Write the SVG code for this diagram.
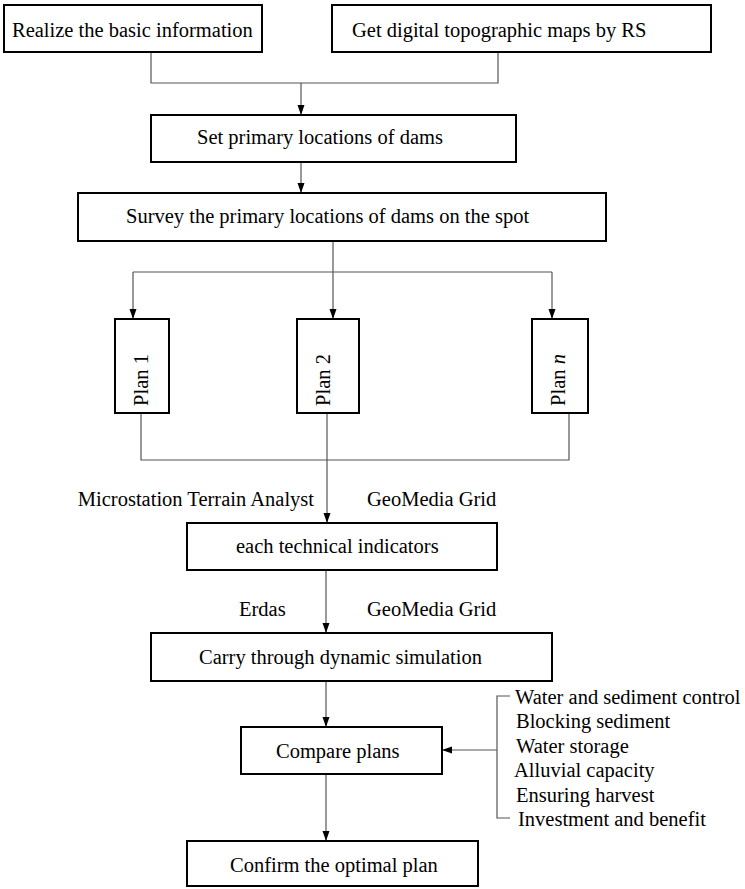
<svg xmlns="http://www.w3.org/2000/svg" width="745" height="889" viewBox="0 0 745 889">
  <style>
    .box { fill: #fff; stroke: #000; stroke-width: 2; }
    .lbl { font-family: "Liberation Serif", "Times New Roman", serif; font-size: 20.5px; fill: #000; }
    .mid { text-anchor: middle; }
    .wire { fill: none; stroke: #555; stroke-width: 1.2; }
  </style>
  <defs>
    <marker id="arr" markerUnits="userSpaceOnUse" markerWidth="10" markerHeight="8" refX="10" refY="3.5" orient="auto">
      <path d="M0,0 L10,3.5 L0,7 z" fill="#000"/>
    </marker>
  </defs>

  <!-- connectors -->
  <g id="connectors">
    <path class="wire" d="M151,52 V83 H498 V52"/>
    <line class="wire" x1="301" y1="83" x2="301" y2="115" marker-end="url(#arr)"/>
    <line class="wire" x1="301" y1="162" x2="301" y2="193" marker-end="url(#arr)"/>
    <line class="wire" x1="333" y1="241" x2="333" y2="272"/>
    <line class="wire" x1="133" y1="272" x2="552" y2="272"/>
    <line class="wire" x1="133" y1="272" x2="133" y2="319" marker-end="url(#arr)"/>
    <line class="wire" x1="333" y1="272" x2="333" y2="319" marker-end="url(#arr)"/>
    <line class="wire" x1="552" y1="272" x2="552" y2="319" marker-end="url(#arr)"/>
    <path class="wire" d="M141,413 V460 H569 V413"/>
    <line class="wire" x1="327" y1="413" x2="327" y2="523" marker-end="url(#arr)"/>
    <line class="wire" x1="326" y1="570" x2="326" y2="633" marker-end="url(#arr)"/>
    <line class="wire" x1="326" y1="681" x2="326" y2="727" marker-end="url(#arr)"/>
    <line class="wire" x1="326" y1="774" x2="326" y2="841" marker-end="url(#arr)"/>
    <path class="wire" d="M510,696 H497 V818 H510"/>
    <line class="wire" x1="497" y1="750" x2="442" y2="750" marker-end="url(#arr)"/>
  </g>

  <g id="n-basic">
    <rect class="box" x="4" y="5" width="258" height="47"/>
    <text class="lbl" x="12" y="37">Realize the basic information</text>
  </g>
  <g id="n-maps">
    <rect class="box" x="332" y="5" width="379" height="47"/>
    <text class="lbl" x="352" y="37">Get digital topographic maps by RS</text>
  </g>
  <g id="n-set">
    <rect class="box" x="151" y="115" width="365" height="47"/>
    <text class="lbl" x="197" y="144">Set primary locations of dams</text>
  </g>
  <g id="n-survey">
    <rect class="box" x="78" y="193" width="528" height="48"/>
    <text class="lbl" x="126" y="223">Survey the primary locations of dams on the spot</text>
  </g>
  <g id="n-plan1">
    <rect class="box" x="115" y="319" width="54" height="94"/>
    <text class="lbl mid" transform="translate(148,380) rotate(-90)">Plan 1</text>
  </g>
  <g id="n-plan2">
    <rect class="box" x="297" y="319" width="62" height="94"/>
    <text class="lbl mid" transform="translate(330,380) rotate(-90)">Plan 2</text>
  </g>
  <g id="n-plann">
    <rect class="box" x="532" y="319" width="56" height="94"/>
    <text class="lbl mid" transform="translate(565,380) rotate(-90)">Plan <tspan font-style="italic">n</tspan></text>
  </g>

  <g id="tools-1">
    <text class="lbl" x="314" y="506" text-anchor="end">Microstation Terrain Analyst</text>
    <text class="lbl" x="367" y="506">GeoMedia Grid</text>
  </g>
  <g id="n-indicators">
    <rect class="box" x="187" y="523" width="310" height="47"/>
    <text class="lbl" x="236" y="553">each technical indicators</text>
  </g>
  <g id="tools-2">
    <text class="lbl" x="239" y="616">Erdas</text>
    <text class="lbl" x="367" y="616">GeoMedia Grid</text>
  </g>
  <g id="n-simulation">
    <rect class="box" x="151" y="633" width="401" height="48"/>
    <text class="lbl" x="199" y="664">Carry through dynamic simulation</text>
  </g>
  <g id="n-compare">
    <rect class="box" x="241" y="727" width="201" height="47"/>
    <text class="lbl" x="276" y="758">Compare plans</text>
  </g>
  <g id="criteria">
    <text class="lbl" x="515" y="704">Water and sediment control</text>
    <text class="lbl" x="516" y="728">Blocking sediment</text>
    <text class="lbl" x="516" y="753">Water storage</text>
    <text class="lbl" x="514" y="777">Alluvial capacity</text>
    <text class="lbl" x="516" y="802">Ensuring harvest</text>
    <text class="lbl" x="518" y="826">Investment and benefit</text>
  </g>
  <g id="n-confirm">
    <rect class="box" x="187" y="841" width="291" height="45"/>
    <text class="lbl" x="230" y="872">Confirm the optimal plan</text>
  </g>
</svg>
